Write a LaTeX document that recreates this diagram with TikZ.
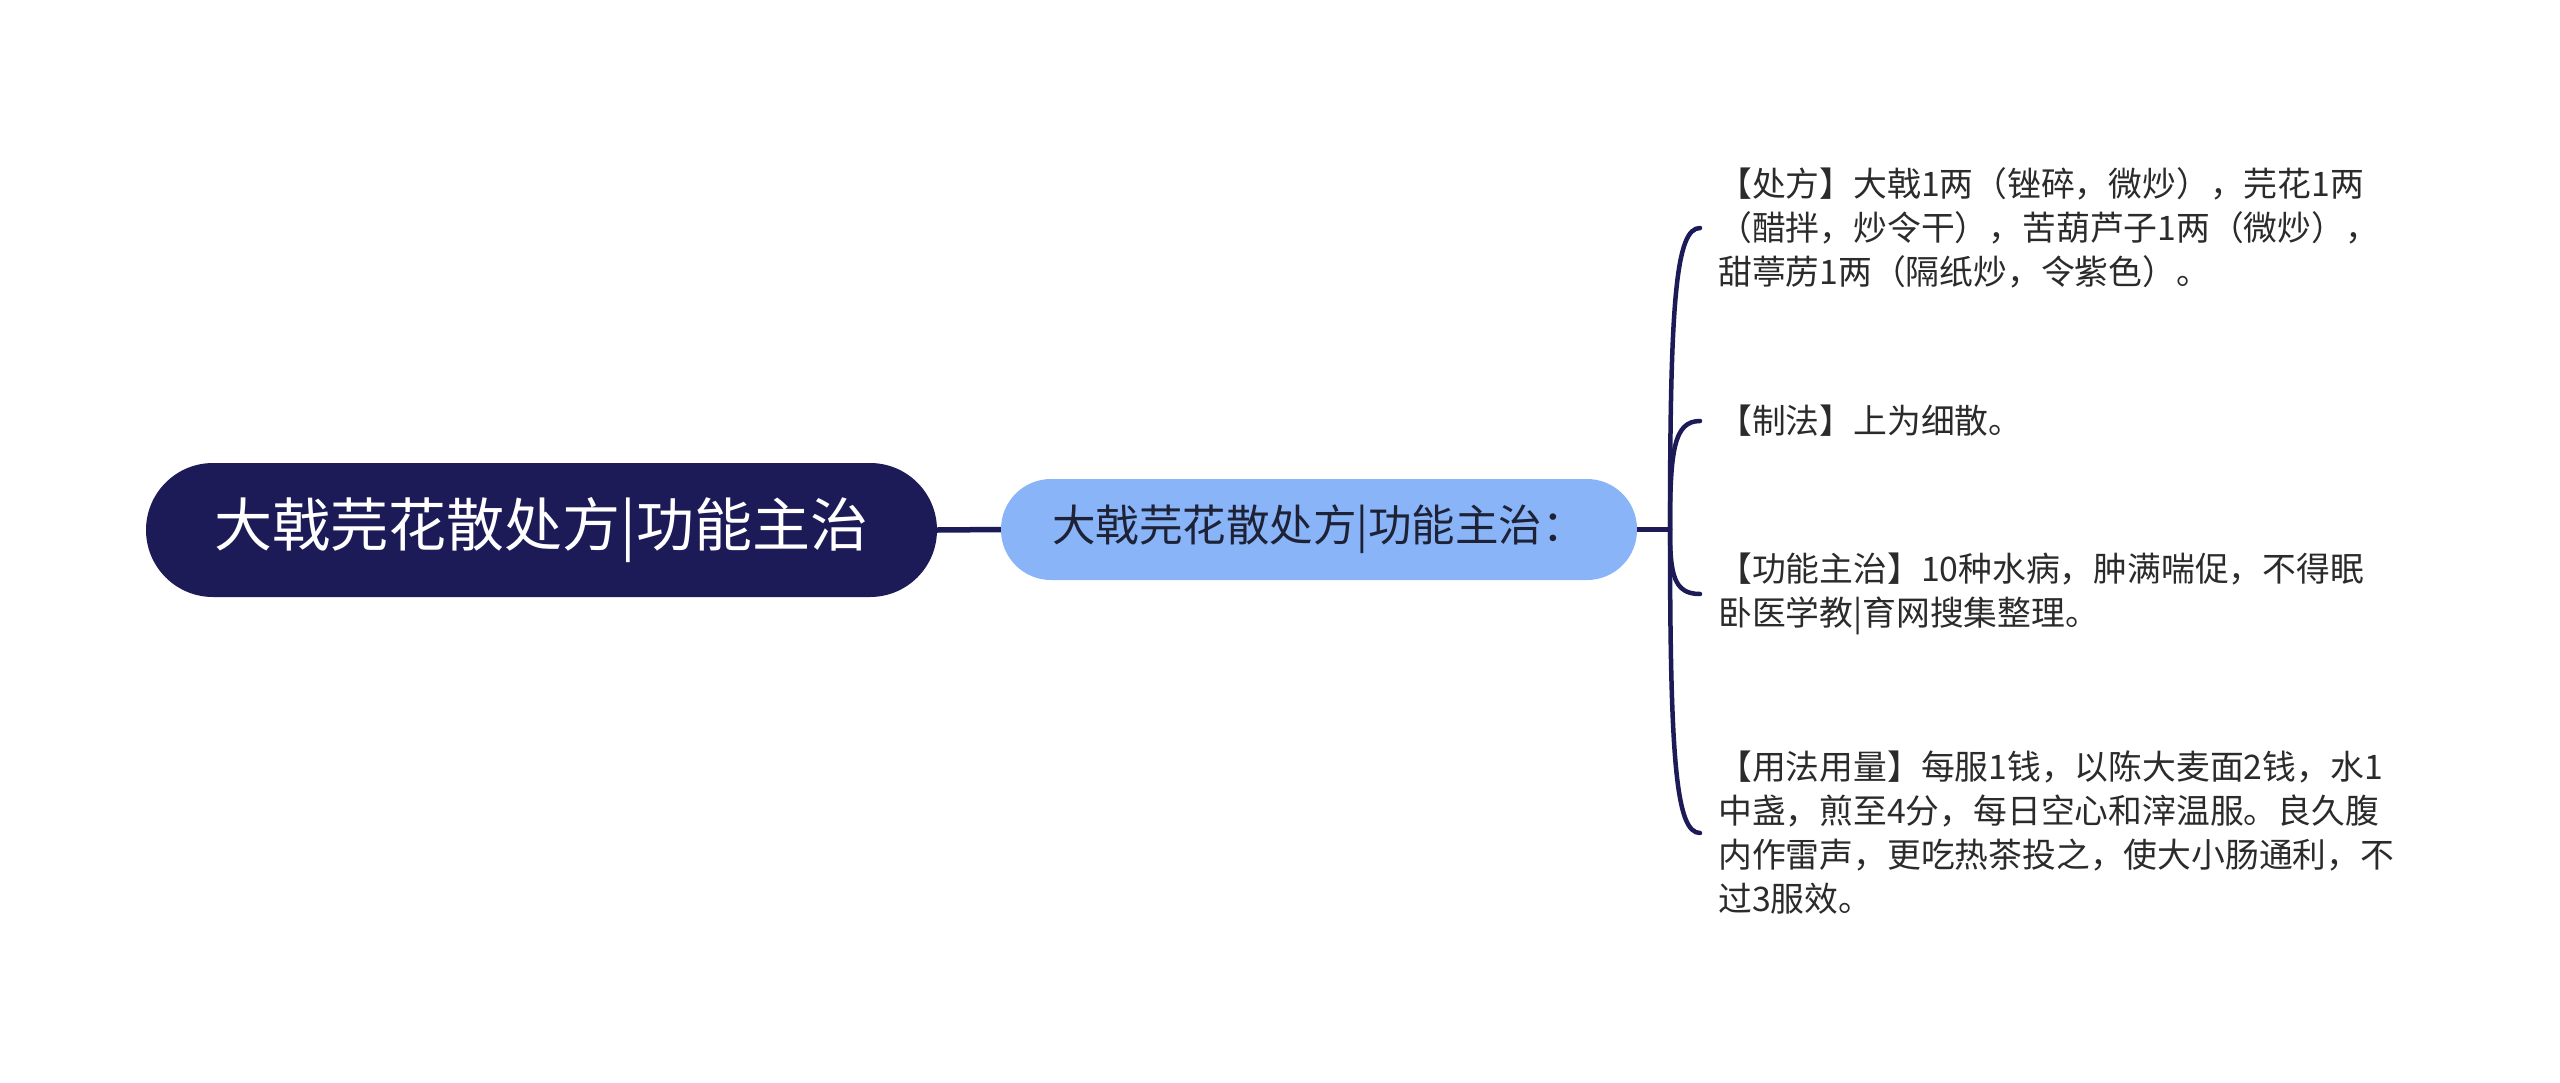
\documentclass[tikz,border=0pt]{standalone}
\usepackage{fontspec}
\setmainfont{Noto Sans CJK SC}
\definecolor{navy}{HTML}{1C1B57}
\definecolor{lblue}{HTML}{8AB4F8}
\definecolor{subtxt}{HTML}{1E2236}
\definecolor{txt}{HTML}{2B2B2B}
\begin{document}
\begin{tikzpicture}[x=1pt,y=-1pt]
\tikzset{
 rootbox/.style={fill=navy, text=white, rounded corners=67pt, minimum width=791pt, minimum height=134pt, inner sep=0pt, font=\fontsize{58}{70}\selectfont},
 subbox/.style={fill=lblue, text=subtxt, rounded corners=50pt, minimum width=636pt, minimum height=101pt, inner sep=0pt, font=\fontsize{43.5}{52}\selectfont},
 leaf/.style={anchor=west, align=left, text=txt, inner sep=0pt, font=\fontsize{33.8}{44}\selectfont},
 link/.style={draw=navy, line width=5.5pt},
 branch/.style={draw=navy, line width=4.5pt, line cap=round}
}
\useasboundingbox[fill=white] (0,0) rectangle (2560,1082);
\node[rootbox] (root) at (541.5,530) {大戟芫花散处方|功能主治};
\node[subbox] (sub) at (1319,529.5) {大戟芫花散处方|功能主治：};
\coordinate (hub) at (1670,529.5);
\node[leaf] (l1) at (1718,228) {【处方】大戟1两（锉碎，微炒），芫花1两\\（醋拌，炒令干），苦葫芦子1两（微炒），\\甜葶苈1两（隔纸炒，令紫色）。};
\node[leaf] (l2) at (1718,421) {【制法】上为细散。};
\node[leaf] (l3) at (1718,594) {【功能主治】10种水病，肿满喘促，不得眠\\卧医学教|育网搜集整理。};
\node[leaf] (l4) at (1718,833) {【用法用量】每服1钱，以陈大麦面2钱，水1\\中盏，煎至4分，每日空心和滓温服。良久腹\\内作雷声，更吃热茶投之，使大小肠通利，不\\过3服效。};
\draw[link] (root.east) -- (sub.west);
\draw[link] (sub.east) -- (hub);
\draw[branch] (hub) .. controls (1670,300) and (1676,228) .. ([xshift=-18pt]l1.west);
\draw[branch] (hub) .. controls (1670,450) and (1674,421) .. ([xshift=-18pt]l2.west);
\draw[branch] (hub) .. controls (1670,575) and (1674,594) .. ([xshift=-18pt]l3.west);
\draw[branch] (hub) .. controls (1670,760) and (1676,833) .. ([xshift=-18pt]l4.west);
\end{tikzpicture}
\end{document}
